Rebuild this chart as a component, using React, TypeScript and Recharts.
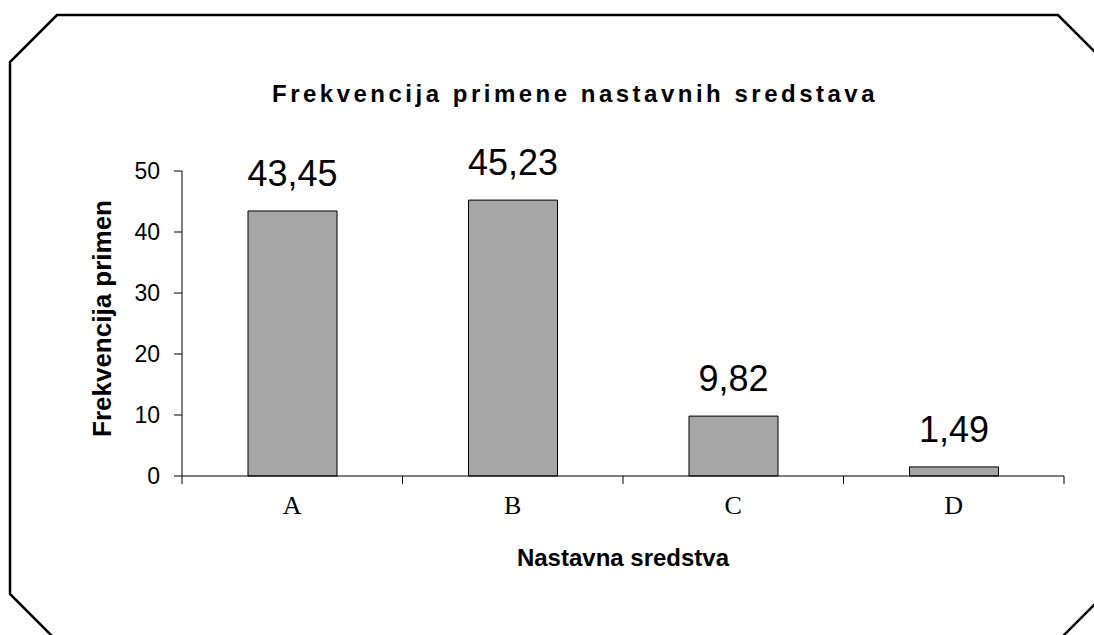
import { Bar, BarChart, Label, LabelList, XAxis, YAxis } from "recharts"

const CATEGORIES = ["A", "B", "C", "D"]
const VALUES = [43.45, 45.23, 9.82, 1.49]
const Y_TICKS = [0, 10, 20, 30, 40, 50]

const TITLE = "Frekvencija primene nastavnih sredstava"
const X_LABEL = "Nastavna sredstva"
const Y_LABEL = "Frekvencija primen"

const data = CATEGORIES.map((name, i) => ({ name, value: VALUES[i] }))

const W = 1094
const H = 635
const TICK_SIZE = 8
const TICK_MARGIN = 12
const SANS = "'Liberation Sans', Arial, sans-serif"

// Excel-style category axis: label in the middle, tick marks on the band edges
function CategoryTick(props: any) {
  const { x, y, payload, index } = props
  const half = payload?.offset ?? 0
  const axisY = y - TICK_SIZE - TICK_MARGIN
  const last = index === CATEGORIES.length - 1
  return (
    <g>
      <line x1={x - half} x2={x - half} y1={axisY} y2={axisY + TICK_SIZE} stroke="#000" />
      {last && <line x1={x + half} x2={x + half} y1={axisY} y2={axisY + TICK_SIZE} stroke="#000" />}
      <text
        x={x}
        y={y}
        dy={18}
        textAnchor="middle"
        fill="#000"
        fontSize={26}
        fontFamily="'Liberation Serif', 'Times New Roman', serif"
      >
        {payload.value}
      </text>
    </g>
  )
}

export default function App() {
  return (
    <div style={{ position: "absolute", left: 0, top: 0, width: W, height: H, background: "#fff", fontFamily: SANS }}>
      <BarChart width={W} height={H} data={data} margin={{ top: 171, right: 30, bottom: 0, left: 0 }}>
        <XAxis
          dataKey="name"
          height={159}
          interval={0}
          tickLine={false}
          tickSize={TICK_SIZE}
          tickMargin={TICK_MARGIN}
          axisLine={{ stroke: "#000" }}
          tick={<CategoryTick />}
        >
          <Label value={X_LABEL} position="center" dy={2} fontSize={24} fontWeight="bold" fill="#000" />
        </XAxis>
        <YAxis
          width={182}
          domain={[0, 50]}
          ticks={Y_TICKS}
          interval={0}
          tickSize={TICK_SIZE}
          tickMargin={14}
          tickLine={{ stroke: "#000" }}
          axisLine={{ stroke: "#000" }}
          tick={{ fontSize: 23, fill: "#000" }}
        >
          <Label value={Y_LABEL} angle={-90} position="center" dx={11} dy={-5} fontSize={26} fontWeight="bold" fill="#000" />
        </YAxis>
        <Bar dataKey="value" fill="#a6a6a6" stroke="#000" strokeWidth={1} barSize={89} isAnimationActive={false}>
          <LabelList
            dataKey="value"
            position="top"
            offset={25}
            fontSize={36}
            fill="#000"
            formatter={(v: any) => Number(v).toFixed(2).replace(".", ",")}
          />
        </Bar>
      </BarChart>
      <svg width={W} height={H} style={{ position: "absolute", left: 0, top: 0, pointerEvents: "none" }}>
        <polygon
          points="57,15 1058,15 1105,62 1105,594 1058,641 57,641 10,594 10,62"
          fill="none"
          stroke="#000"
          strokeWidth={2.5}
        />
        <text x={575} y={102} textAnchor="middle" fontSize={24} fontWeight="bold" letterSpacing={3.5} fill="#000">
          {TITLE}
        </text>
      </svg>
    </div>
  )
}
